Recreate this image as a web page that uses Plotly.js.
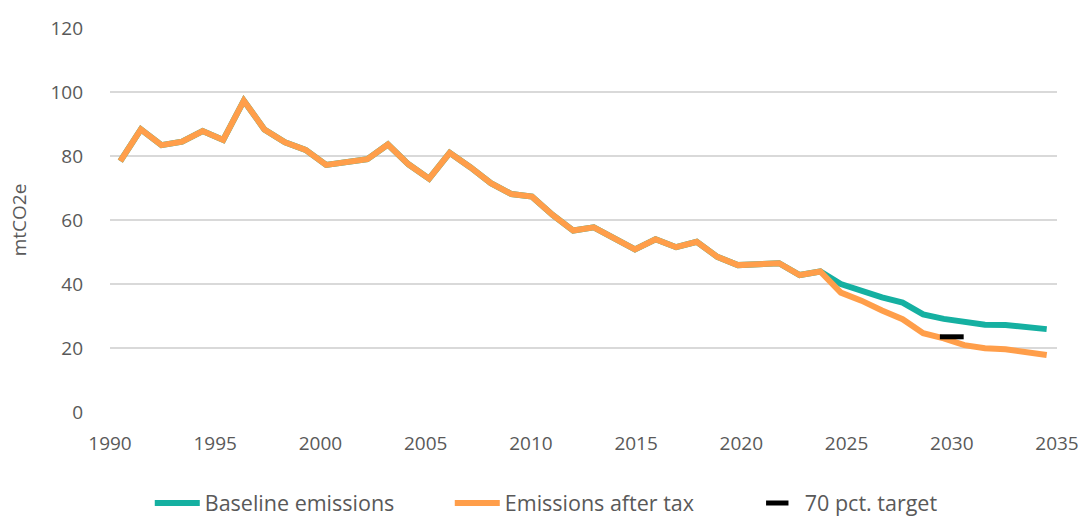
<!DOCTYPE html>
<html>
<head>
<meta charset="utf-8">
<script src="https://cdn.plot.ly/plotly-3.0.1.min.js"></script>
<style>
  html, body { margin: 0; padding: 0; background: #fff; }
  #chart { width: 1086px; height: 517px; }
</style>
</head>
<body>
<div id="chart"></div>
<script>
// Years 1990–2035
const years = [1990,1991,1992,1993,1994,1995,1996,1997,1998,1999,2000,2001,2002,2003,2004,2005,2006,2007,2008,2009,2010,2011,2012,2013,2014,2015,2016,2017,2018,2019,2020,2021,2022,2023,2024,2025,2026,2027,2028,2029,2030,2031,2032,2033,2034,2035];

// Historical emissions 1990–2024 (mtCO2e)
const historical = [78.4,88.3,83.4,84.5,87.8,85.0,97.3,88.3,84.3,81.9,77.2,78.2,79.0,83.6,77.4,72.9,81.0,76.5,71.5,68.1,67.3,61.6,56.7,57.7,54.3,50.8,54.0,51.5,53.2,48.5,45.9,46.3,46.5,42.8,43.9];

// Projections 2025–2035
const baselineProj = [40.0,37.9,35.8,34.2,30.5,29.1,28.0,27.3,27.2,26.7,25.9];
const afterTaxProj = [37.3,34.8,31.7,29.0,24.6,23.0,20.9,19.9,19.6,18.8,17.8];

// 70 pct. target
const targetYear = [2030];
const targetValue = [23.5];

// Axis ticks
const yTicks = [0,20,40,60,80,100,120];
const xTicks = [1990,1995,2000,2005,2010,2015,2020,2025,2030,2035];

const baseline = historical.concat(baselineProj);
const afterTax = historical.concat(afterTaxProj);

const FONT = "'Open Sans', 'Noto Sans', sans-serif";
const TXT = '#595959';

const traces = [
  {
    name: 'Baseline emissions',
    x: years, y: baseline,
    type: 'scatter', mode: 'lines',
    line: { color: '#15B0A1', width: 6 },
    xaxis: 'x', yaxis: 'y'
  },
  {
    name: 'Emissions after tax',
    x: years, y: afterTax,
    type: 'scatter', mode: 'lines',
    line: { color: '#FF9E4A', width: 6 },
    xaxis: 'x', yaxis: 'y'
  },
  {
    name: '70 pct. target',
    x: targetYear, y: targetValue,
    type: 'scatter', mode: 'markers',
    marker: { symbol: 'line-ew', size: 17, color: '#000', line: { color: '#000', width: 5 } },
    xaxis: 'x2', yaxis: 'y'
  }
];

const layout = {
  width: 1086, height: 517,
  margin: { l: 110, r: 29, t: 28, b: 105 },
  paper_bgcolor: '#fff', plot_bgcolor: '#fff',
  font: { family: FONT, size: 19, color: TXT },
  showlegend: true,
  legend: {
    orientation: 'h', x: 0.042, xanchor: 'left', xref: 'paper',
    y: 0.027, yanchor: 'middle', yref: 'container',
    entrywidth: 240, itemwidth: 45,
    font: { family: FONT, size: 21.5, color: TXT },
    traceorder: 'normal'
  },
  xaxis: {
    range: [1989.5, 2035.5],
    showgrid: false, zeroline: false, showline: false,
    showticklabels: false, ticks: ''
  },
  xaxis2: {
    overlaying: 'x', side: 'bottom', anchor: 'y',
    range: [1990, 2035],
    tickvals: xTicks, ticktext: xTicks.map(String),
    showgrid: false, zeroline: false, showline: false, ticks: '',
    ticklabelstandoff: 18,
    tickfont: { family: FONT, size: 19, color: TXT }
  },
  yaxis: {
    range: [0, 120],
    tickvals: yTicks, ticktext: yTicks.map(String),
    showgrid: true, gridcolor: '#D9D9D9', gridwidth: 1.5,
    zeroline: false, showline: false, ticks: '',
    ticklabelstandoff: 26,
    tickfont: { family: FONT, size: 19, color: TXT },
    title: { text: 'mtCO2e', font: { family: FONT, size: 19, color: TXT }, standoff: 18 }
  }
};

Plotly.newPlot('chart', traces, layout, { displayModeBar: false, staticPlot: true });
</script>
</body>
</html>
